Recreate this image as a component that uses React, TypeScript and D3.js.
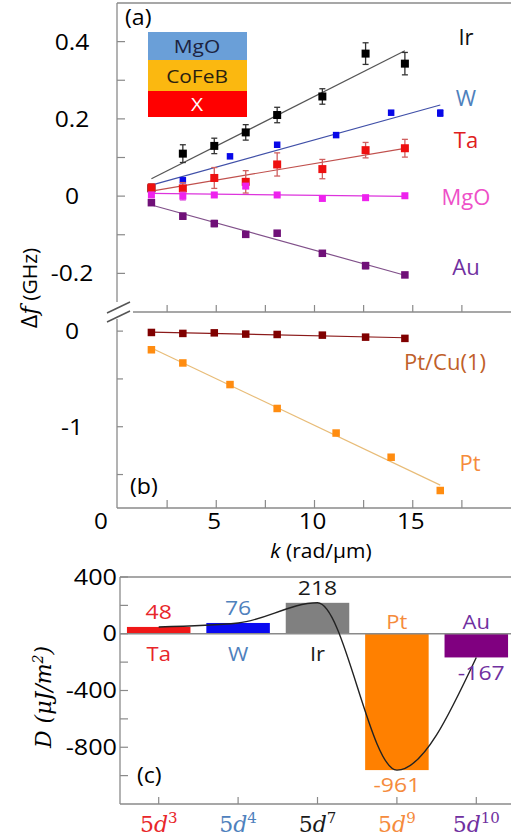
import React from "react";
import * as d3 from "d3";

// ---- panel (a): delta f vs k for MgO/CoFeB/X stacks
const kA = [1.7, 3.3, 4.9, 6.5, 8.1, 10.4, 12.6, 14.6];
const kB = [1.7, 3.3, 5.7, 8.1, 11.1, 13.9, 16.4];

const irVals = [0.02, 0.11, 0.13, 0.165, 0.21, 0.258, 0.369, 0.343];
const irErr = [0.012, 0.023, 0.02, 0.02, 0.02, 0.02, 0.028, 0.029];
const wVals = [0.015, 0.041, 0.103, 0.133, 0.158, 0.216, 0.215];
const wErr = [0, 0, 0, 0, 0, 0, 0.008];
const taVals = [0.022, 0.02, 0.047, 0.037, 0.082, 0.07, 0.119, 0.124];
const taErr = [0.01, 0.015, 0.027, 0.029, 0.03, 0.025, 0.02, 0.023];
const mgoVals = [0.003, 0, 0.003, 0.026, 0.003, -0.006, -0.004, 0.001];
const mgoErr = [0.005, 0.01, 0.004, 0.006, 0.004, 0.004, 0.004, 0.004];
const auVals = [-0.017, -0.052, -0.071, -0.099, -0.096, -0.148, -0.18, -0.204];
const auErr = [0.006, 0.008, 0.008, 0.006, 0.006, 0.006, 0.008, 0.006];

// ---- panel (b)
const ptCuVals = [-0.014, -0.024, -0.018, -0.031, -0.035, -0.042, -0.063, -0.076];
const ptVals = [-0.195, -0.333, -0.559, -0.809, -1.066, -1.319, -1.667];

// ---- panel (c): DMI constant per heavy metal
const metals = ["Ta", "W", "Ir", "Pt", "Au"];
const dmiVals = [48, 76, 218, -961, -167];
const dConfig = [3, 4, 7, 9, 10];
const barColors = ["#f01818", "#0a0af0", "#808080", "#ff8000", "#800080"];
const textColors = ["#e8262a", "#4f81bd", "#1a1a1a", "#f58b3c", "#7030a0"];

const SANS = "'Open Sans', 'Noto Sans', sans-serif";
const SERIF = "'DejaVu Serif', serif";
const AX = "#8a8a8a";

const xK = d3.scaleLinear().domain([0, 20]).range([118, 511]);
const yA = d3.scaleLinear().domain([-0.3, 0.5]).range([312, 3]);
const yB = d3.scaleLinear().domain([-1.85, 0.2]).range([508, 312]);
const xC = d3.scaleBand<string>().domain(metals).range([119, 516]).paddingInner(0.2).paddingOuter(0.1);
const yD = d3.scaleLinear().domain([-1200, 400]).range([804, 577]);

function fit(k: number[], v: number[]) {
  const mk = d3.mean(k)!, mv = d3.mean(v)!;
  const sxy = d3.sum(k, (x, i) => (x - mk) * (v[i] - mv));
  const sxx = d3.sum(k, (x) => (x - mk) ** 2);
  const b = sxy / sxx;
  const a = mv - b * mk;
  return [k[0], k[k.length - 1]].map((x) => [x, a + b * x] as [number, number]);
}

type S = { k: number[]; v: number[]; err?: number[]; mk: string; ln: string; eb?: string; size: number; y: d3.ScaleLinear<number, number> };

const seriesA: S[] = [
  { k: kA, v: irVals, err: irErr, mk: "#000", ln: "#555", eb: "#333", size: 8, y: yA },
  { k: kB, v: wVals, err: wErr, mk: "#0808e8", ln: "#4050a8", eb: "#0808e8", size: 6.5, y: yA },
  { k: kA, v: taVals, err: taErr, mk: "#ee1010", ln: "#c0504d", eb: "#d06060", size: 8, y: yA },
  { k: kA, v: mgoVals, err: mgoErr, mk: "#ee22ee", ln: "#dd33dd", eb: "#dd55dd", size: 7, y: yA },
  { k: kA, v: auVals, err: auErr, mk: "#701078", ln: "#80508a", eb: "#80508a", size: 7.5, y: yA },
  { k: kA, v: ptCuVals, mk: "#800000", ln: "#8b1a1a", size: 7.5, y: yB },
  { k: kB, v: ptVals, mk: "#ff8c10", ln: "#e8bc78", size: 7.5, y: yB },
];

function T(p: { x: number; y: number; size: number; sx?: number; anchor?: string; fill?: string; family?: string; rot?: number; style?: string; children: React.ReactNode }) {
  const tr = `translate(${p.x},${p.y})${p.rot ? ` rotate(${p.rot})` : ""} scale(${p.sx ?? 1},1)`;
  return (
    <text transform={tr} fontSize={p.size} fill={p.fill ?? "#000"} textAnchor={p.anchor ?? "middle"}
      fontFamily={p.family ?? SANS} fontStyle={p.style} dy="0.36em">
      {p.children}
    </text>
  );
}

function Series({ s }: { s: S }) {
  const line = d3.line().x((d) => xK(d[0])).y((d) => s.y(d[1]));
  const h = s.size / 2;
  return (
    <g>
      <path d={line(fit(s.k, s.v)) ?? ""} stroke={s.ln} strokeWidth={1.2} fill="none" />
      {s.err && s.k.map((k, i) => s.err![i] > 0 ? (
        <g key={"e" + i} stroke={s.eb} strokeWidth={1.3}>
          <line x1={xK(k)} x2={xK(k)} y1={s.y(s.v[i] - s.err![i])} y2={s.y(s.v[i] + s.err![i])} />
          <line x1={xK(k) - 3} x2={xK(k) + 3} y1={s.y(s.v[i] - s.err![i])} y2={s.y(s.v[i] - s.err![i])} />
          <line x1={xK(k) - 3} x2={xK(k) + 3} y1={s.y(s.v[i] + s.err![i])} y2={s.y(s.v[i] + s.err![i])} />
        </g>
      ) : null)}
      {s.k.map((k, i) => (
        <rect key={i} x={xK(k) - h} y={s.y(s.v[i]) - h} width={s.size} height={s.size} fill={s.mk} />
      ))}
    </g>
  );
}

export default function App() {
  const ticksA = d3.range(-0.2, 0.45, 0.1);
  const ticksB = [0, -0.5, -1, -1.5];
  const ticksX = d3.range(2.5, 20, 2.5);
  const ticksD = d3.range(-1000, 401, 200);
  const bw = xC.bandwidth();
  const cx = (m: string) => xC(m)! + bw / 2;
  const curve = d3.line<number>().x((_, i) => cx(metals[i])).y((d) => yD(d)).curve(d3.curveMonotoneX);

  return (
    <svg width={511} height={839} style={{ position: "absolute", left: 0, top: 0, background: "#fff" }}>
      {/* ---------- panel (a) ---------- */}
      <line x1={117} x2={511} y1={3} y2={3} stroke={AX} strokeWidth={1.3} />
      <line x1={117} x2={117} y1={3} y2={302} stroke={AX} strokeWidth={1.3} />
      {ticksA.map((t) => (
        <line key={t} x1={117} x2={125} y1={yA(t)} y2={yA(t)} stroke={AX} strokeWidth={1.2} />
      ))}
      {[0.4, 0.2, 0, -0.2].map((t) => (
        <T key={t} x={72} y={yA(t)} size={22} sx={1.12}>{String(t)}</T>
      ))}

      <rect x={148} y={32} width={99} height={28} fill="#6a9fd8" />
      <rect x={148} y={60} width={99} height={31} fill="#fbb810" />
      <rect x={148} y={91} width={99} height={26} fill="#ff0000" />
      <T x={197} y={46} size={19} sx={1.1} fill="#1c2340">MgO</T>
      <T x={197} y={76} size={19} sx={1.1} fill="#2a2010">CoFeB</T>
      <T x={197} y={104} size={19} sx={1.1} fill="#fff">X</T>
      <T x={125} y={17} size={22} sx={1.05} anchor="start">(a)</T>

      {/* break marks */}
      <line x1={107} y1={313} x2={130} y2={302} stroke="#555" strokeWidth={1.5} />
      <line x1={107} y1={322} x2={130} y2={311} stroke="#555" strokeWidth={1.5} />

      {/* ---------- panel (b) ---------- */}
      <line x1={133} x2={511} y1={312} y2={312} stroke={AX} strokeWidth={1.3} />
      {ticksX.map((t) => (
        <line key={"tt" + t} x1={xK(t)} x2={xK(t)} y1={312} y2={305} stroke={AX} strokeWidth={1.2} />
      ))}
      <line x1={117} x2={117} y1={319} y2={508} stroke={AX} strokeWidth={1.3} />
      <line x1={117} x2={511} y1={508} y2={508} stroke={AX} strokeWidth={1.3} />
      {ticksB.map((t) => (
        <line key={t} x1={117} x2={123} y1={yB(t)} y2={yB(t)} stroke={AX} strokeWidth={1.2} />
      ))}
      {ticksX.map((t) => (
        <line key={"bt" + t} x1={xK(t)} x2={xK(t)} y1={508} y2={500} stroke={AX} strokeWidth={1.2} />
      ))}
      {[0, -1].map((t) => (
        <T key={t} x={72} y={yB(t)} size={22} sx={1.12}>{String(t)}</T>
      ))}
      {[0, 5, 10, 15].map((t) => (
        <T key={t} x={t === 0 ? 101 : xK(t) - 2} y={521} size={22} sx={1.1}>{t}</T>
      ))}
      <T x={321} y={551} size={20} sx={1.05}>
        <tspan fontStyle="italic">k</tspan> (rad/μm)
      </T>
      <T x={130} y={486} size={22} sx={1.05} anchor="start">(b)</T>

      <T x={30} y={288} size={20} rot={-90} sx={1.05}>
        <tspan fontSize={22}>Δ</tspan><tspan fontFamily={SERIF} fontStyle="italic" fontSize={22}>f</tspan> (GHz)
      </T>

      {seriesA.map((s, i) => <Series key={i} s={s} />)}

      <T x={466} y={37} size={22} fill="#111">Ir</T>
      <T x={466} y={98} size={22} fill="#4f81bd">W</T>
      <T x={466} y={140} size={22} fill="#e02020">Ta</T>
      <T x={466} y={197} size={22} fill="#ee50c8">MgO</T>
      <T x={466} y={267} size={22} fill="#7030a0">Au</T>
      <T x={445} y={362} size={22} fill="#c0602a">Pt/Cu(1)</T>
      <T x={470} y={463} size={22} fill="#f58b3c">Pt</T>

      {/* ---------- panel (c) ---------- */}
      <line x1={120} x2={511} y1={577} y2={577} stroke={AX} strokeWidth={1.3} />
      <line x1={120} x2={120} y1={577} y2={804} stroke={AX} strokeWidth={1.3} />
      <line x1={120} x2={511} y1={804} y2={804} stroke={AX} strokeWidth={1.3} />
      {ticksD.map((t) => (
        <line key={t} x1={120} x2={128} y1={yD(t)} y2={yD(t)} stroke={AX} strokeWidth={1.2} />
      ))}
      {metals.map((m) => (
        <line key={m} x1={cx(m)} x2={cx(m)} y1={804} y2={797} stroke={AX} strokeWidth={1.2} />
      ))}
      {[400, 0, -400, -800].map((t) => (
        <T key={t} x={117} y={yD(t)} size={21} sx={1.2} anchor="end">{String(t)}</T>
      ))}

      {metals.map((m, i) => (
        <rect key={m} x={xC(m)} width={bw} y={yD(Math.max(0, dmiVals[i]))}
          height={Math.abs(yD(dmiVals[i]) - yD(0))} fill={barColors[i]} />
      ))}
      <line x1={120} x2={511} y1={yD(0)} y2={yD(0)} stroke={AX} strokeWidth={1.3} />
      <path d={curve(dmiVals) ?? ""} fill="none" stroke="#222" strokeWidth={1.4} />

      {metals.map((m, i) => {
        const v = dmiVals[i];
        const pos = v > 0;
        return (
          <g key={"l" + m}>
            <T x={cx(m) + (i === 4 ? 5 : 0)} y={pos ? yD(v) - 15 : yD(v) + 15} size={20} sx={1.15} fill={textColors[i]}>{String(v)}</T>
            <T x={cx(m)} y={pos ? yD(0) + 20 : yD(0) - 12} size={20} sx={1.1} fill={textColors[i]}>{m}</T>
          </g>
        );
      })}

      <T x={137} y={775} size={22} sx={1.05} anchor="start">(c)</T>
      <T x={43} y={697} size={22} rot={-90} family={SERIF} style="italic">
        D (μJ/m<tspan dy="-8" fontSize={14}>2</tspan><tspan dy="8">)</tspan>
      </T>

      {metals.map((m, i) => (
        <text key={"c" + m} x={cx(m)} y={832} textAnchor="middle" fontFamily={SERIF} fontSize={22} fill={textColors[i]}>
          5<tspan fontStyle="italic">d</tspan><tspan dy="-9" fontSize={15}>{dConfig[i]}</tspan>
        </text>
      ))}
    </svg>
  );
}
